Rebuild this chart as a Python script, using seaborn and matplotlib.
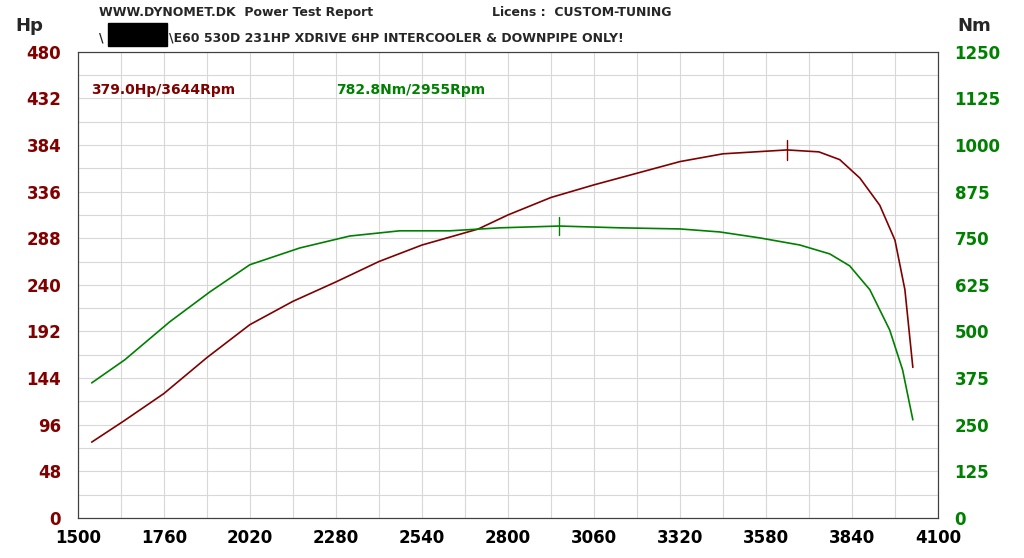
import matplotlib
matplotlib.use('Agg')
import matplotlib.pyplot as plt
import numpy as np
import seaborn as sns

# dyno readings
rpm_hp = [1542, 1640, 1760, 1890, 2020, 2150, 2280, 2410, 2540, 2710, 2800, 2930, 3060,
          3190, 3320, 3450, 3644, 3740, 3803, 3864, 3924, 3970, 4000, 4024]
hp = [78, 100, 128, 165, 199, 223, 243, 264, 281, 297.5, 312, 330, 343,
      355, 367, 375, 379, 377, 369, 350, 322, 286, 235, 155]
rpm_nm = [1542, 1642, 1778, 1899, 2020, 2171, 2322, 2473, 2625, 2776, 2955, 3140, 3320,
          3440, 3561, 3682, 3773, 3833, 3894, 3954, 3993, 4024]
nm = [362, 424, 526, 606, 679, 724, 756, 770, 770, 778, 782.8, 778, 775,
      767, 751, 732, 708, 676, 612, 504, 397, 263]
peak_hp = (3644, 379.0)
peak_nm = (2955, 782.8)

RED = '#800000'
GREEN = '#008000'

sns.set_style('white')
fig = plt.figure(figsize=(10.24, 5.58), dpi=100)
ax = fig.add_axes([0.076, 0.072, 0.84, 0.835])
ax2 = ax.twinx()

sns.lineplot(x=rpm_hp, y=hp, ax=ax, color=RED, lw=1.2)
sns.lineplot(x=rpm_nm, y=nm, ax=ax2, color=GREEN, lw=1.2)
ax.plot([peak_hp[0]] * 2, [peak_hp[1] - 10, peak_hp[1] + 10], color=RED, lw=1)
ax2.plot([peak_nm[0]] * 2, [peak_nm[1] - 25, peak_nm[1] + 25], color=GREEN, lw=1)

ax.set_xlim(1500, 4100)
ax.set_ylim(0, 480)
ax2.set_ylim(0, 1250)
ax.set_xticks(np.arange(1500, 4101, 260))
ax.set_xticks(np.arange(1500, 4101, 130), minor=True)
ax.set_yticks(np.arange(0, 481, 48))
ax.set_yticks(np.arange(0, 481, 24), minor=True)
ax2.set_yticks(np.arange(0, 1251, 125))
ax.grid(True, which='both', color='#d8d8d8', lw=0.8)
ax.set_axisbelow(True)
for a in (ax, ax2):
    for s in a.spines.values():
        s.set_color('#404040')
ax.tick_params(axis='both', which='both', length=0)
ax.tick_params(axis='x', labelsize=12, labelcolor='black', pad=8)
ax.tick_params(axis='y', labelsize=12, labelcolor=RED, pad=12)
ax2.tick_params(axis='y', labelsize=12, labelcolor=GREEN, length=0, pad=12)
for lab in ax.get_xticklabels() + ax.get_yticklabels() + ax2.get_yticklabels():
    lab.set_fontweight('bold')

ax.text(0.015, 0.91, f'{peak_hp[1]:.1f}Hp/{peak_hp[0]}Rpm', transform=ax.transAxes,
        color=RED, fontsize=10, fontweight='bold')
ax.text(0.3, 0.91, f'{peak_nm[1]:.1f}Nm/{peak_nm[0]}Rpm', transform=ax.transAxes,
        color=GREEN, fontsize=10, fontweight='bold')

fig.text(0.015, 0.945, 'Hp', fontsize=13, fontweight='bold')
fig.text(0.935, 0.945, 'Nm', fontsize=13, fontweight='bold')
fig.text(0.097, 0.972, 'WWW.DYNOMET.DK  Power Test Report', fontsize=9, fontweight='bold')
fig.text(0.48, 0.972, 'Licens :  CUSTOM-TUNING', fontsize=9, fontweight='bold')
fig.text(0.097, 0.925, '\\', fontsize=9, fontweight='bold')
fig.add_artist(plt.Rectangle((0.105, 0.918), 0.058, 0.04, transform=fig.transFigure, color='black'))
fig.text(0.165, 0.925, '\\E60 530D 231HP XDRIVE 6HP INTERCOOLER & DOWNPIPE ONLY!', fontsize=9,
         fontweight='bold')

fig.savefig('out.png', dpi=100)
